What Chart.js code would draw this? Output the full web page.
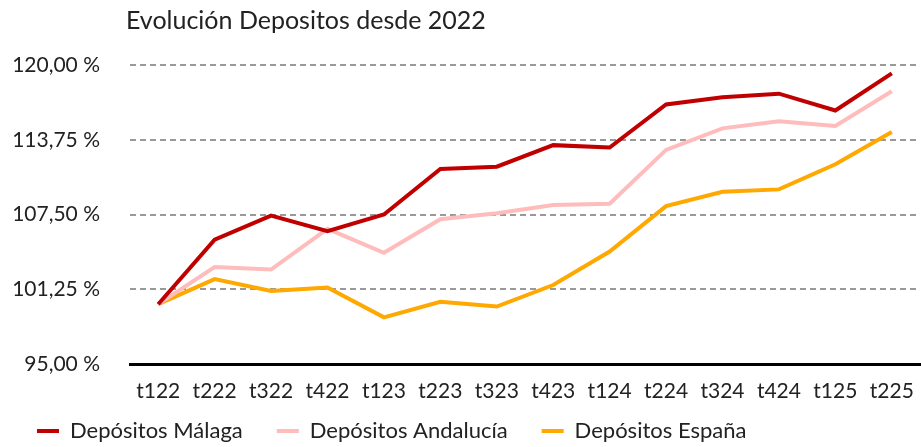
<!DOCTYPE html>
<html>
<head>
<meta charset="utf-8">
<script src="https://cdn.jsdelivr.net/npm/chart.js@4/dist/chart.umd.min.js"></script>
<style>
html,body{margin:0;padding:0;background:#fff;}
#wrap{width:921px;height:447px;position:relative;}
</style>
</head>
<body>
<div id="wrap"><canvas id="c" width="921" height="447"></canvas></div>
<script>
const chartTitle = "Evolución Depositos desde 2022";
const categories = ["t122","t222","t322","t422","t123","t223","t323","t423","t124","t224","t324","t424","t125","t225"];
const seriesNames = ["Depósitos Málaga","Depósitos Andalucía","Depósitos España"];
const malaga    = [100, 105.4, 107.4, 106.1, 107.5, 111.3, 111.5, 113.3, 113.1, 116.7, 117.3, 117.6, 116.2, 119.3];
const andalucia = [100, 103.1, 102.9, 106.3, 104.3, 107.1, 107.6, 108.3, 108.4, 112.9, 114.7, 115.3, 114.9, 117.8];
const espana    = [100, 102.1, 101.1, 101.4, 98.9, 100.2, 99.8, 101.6, 104.4, 108.2, 109.4, 109.6, 111.7, 114.4];
const yTicks = [95, 101.25, 107.5, 113.75, 120];

const colors = ["#C00000", "#FFBCBC", "#FFA800"];
const fontFam = "Lato, 'Open Sans', sans-serif";

const layoutPlugin = {
  id: 'layoutTweaks',
  beforeLayout(chart) {
    const lg = chart.legend;
    if (lg && !lg._fitWrapped) {
      const orig = lg.fit.bind(lg);
      lg.fit = function () { orig(); this.height = 38; };
      lg._fitWrapped = true;
    }
  },
  afterLayout(chart) {
    const lg = chart.legend;
    if (lg) { lg.top = 386; lg.bottom = 447; lg.height = 61; }
  },
  afterDraw(chart) {
    const ctx = chart.ctx;
    ctx.save();
    ctx.font = "25px " + fontFam;
    ctx.fillStyle = "#222";
    ctx.textBaseline = "middle";
    ctx.textAlign = "left";
    ctx.fillText(chartTitle, 126, 21);
    ctx.restore();
  }
};

new Chart(document.getElementById('c'), {
  type: 'line',
  data: {
    labels: categories,
    datasets: [malaga, andalucia, espana].map((d, i) => ({
      label: seriesNames[i],
      data: d,
      borderColor: colors[i],
      backgroundColor: colors[i],
      borderWidth: 4,
      pointRadius: 0,
      tension: 0,
      fill: false
    }))
  },
  options: {
    responsive: false,
    animation: false,
    layout: { padding: { top: 65, left: 3, right: 1, bottom: 0 } },
    plugins: {
      title: { display: false },
      tooltip: { enabled: false },
      legend: {
        position: 'bottom',
        align: 'start',
        labels: {
          font: { family: fontFam, size: 22 },
          color: '#222',
          boxWidth: 22,
          boxHeight: 4,
          padding: 34,
          generateLabels: chart => Chart.defaults.plugins.legend.labels.generateLabels(chart).map(l => Object.assign(l, { lineWidth: 0 }))
        }
      }
    },
    scales: {
      x: {
        offset: true,
        afterFit(scale) { scale.height = 45; scale.paddingLeft = 0; scale.paddingRight = 0; },
        grid: { display: false, drawTicks: false },
        border: { display: true, color: '#000', width: 3 },
        ticks: { font: { family: fontFam, size: 21 }, color: '#222', padding: 15, maxRotation: 0, autoSkip: false }
      },
      y: {
        min: 95, max: 120,
        afterFit(scale) { scale.width = 127; },
        afterBuildTicks(scale) { scale.ticks = yTicks.map(v => ({ value: v })); },
        grid: { color: '#999', lineWidth: 2, drawTicks: false },
        border: { display: false, dash: [6, 4] },
        ticks: {
          font: { family: fontFam, size: 21 },
          color: '#222',
          padding: 30,
          callback: v => v.toFixed(2).replace('.', ',') + ' %'
        }
      }
    }
  },
  plugins: [layoutPlugin]
});
</script>
</body>
</html>
